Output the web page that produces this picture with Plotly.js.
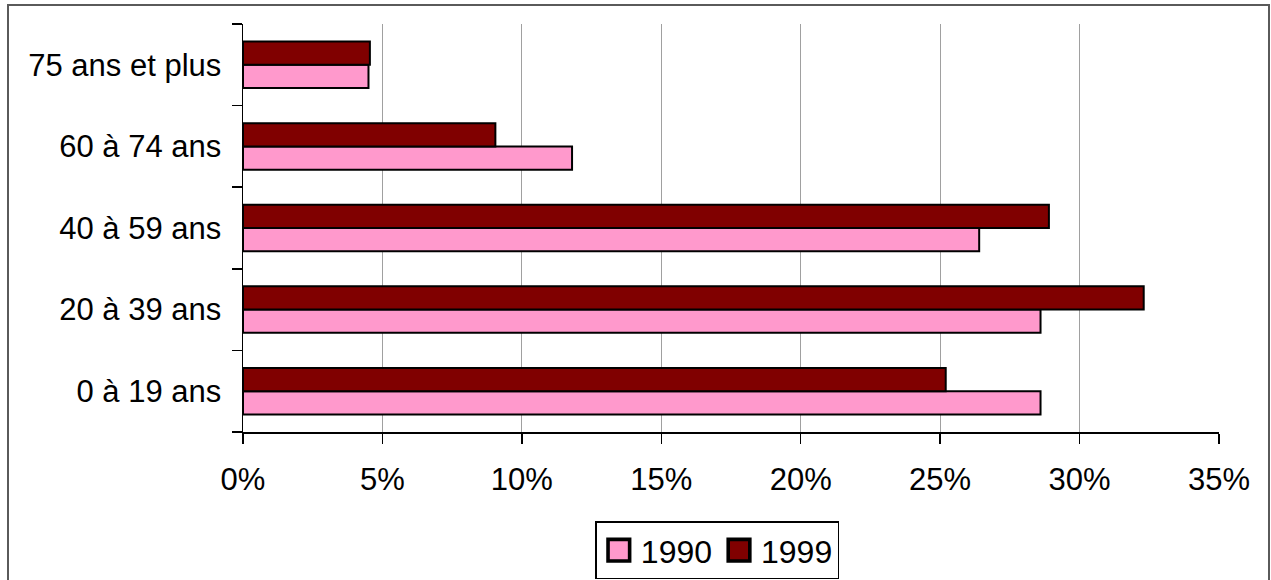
<!DOCTYPE html>
<html>
<head>
<meta charset="utf-8">
<script src="https://cdn.plot.ly/plotly-3.0.1.min.js"></script>
<style>
  html, body { margin: 0; padding: 0; background: #fff; }
  #wrap { position: relative; width: 1271px; height: 580px; overflow: hidden; }
  #chart { position: absolute; left: 0; top: 0; width: 1271px; height: 580px; }
  #frame { position: absolute; left: 7px; top: 4px; width: 1259px; height: 620px;
           border: 2px solid #5a5a5a; pointer-events: none; }
</style>
</head>
<body>
<div id="wrap">
  <div id="chart"></div>
  <div id="frame"></div>
</div>
<script>
const categories = ['0 à 19 ans', '20 à 39 ans', '40 à 59 ans', '60 à 74 ans', '75 ans et plus'];
const values1990 = [28.6, 28.6, 26.4, 11.8, 4.5];
const values1999 = [25.2, 32.3, 28.9, 9.05, 4.55];
const tickVals = [0, 5, 10, 15, 20, 25, 30, 35];
const tickText = ['0%', '5%', '10%', '15%', '20%', '25%', '30%', '35%'];

const fontFamily = 'Liberation Sans, Arial, sans-serif';

const traces = [
  {
    type: 'bar', orientation: 'h', name: '1990',
    y: categories, x: values1990,
    marker: { color: '#FF99CC', line: { color: '#000000', width: 2 } },
    hoverinfo: 'skip'
  },
  {
    type: 'bar', orientation: 'h', name: '1999',
    y: categories, x: values1999,
    marker: { color: '#800000', line: { color: '#000000', width: 2 } },
    hoverinfo: 'skip'
  }
];

const layout = {
  width: 1271, height: 580,
  margin: { l: 243, r: 52, t: 24, b: 148, autoexpand: false },
  paper_bgcolor: '#ffffff', plot_bgcolor: '#ffffff',
  font: { family: fontFamily, size: 31, color: '#000000' },
  barmode: 'group',
  bargap: 0.43,
  bargroupgap: 0,
  showlegend: true,
  legend: {
    orientation: 'h', x: 0.486, xanchor: 'center', y: -0.219, yanchor: 'top',
    bordercolor: '#000000', borderwidth: 1.5, bgcolor: '#ffffff',
    font: { family: fontFamily, size: 32, color: '#000000' },
    traceorder: 'normal', itemwidth: 34
  },
  xaxis: {
    range: [0, 35], tickvals: tickVals, ticktext: tickText,
    showgrid: true, gridcolor: '#a0a0a0', gridwidth: 1,
    showline: true, linecolor: '#000000', linewidth: 1.5,
    ticks: 'outside', ticklen: 10, tickcolor: '#000000', tickwidth: 1.5,
    ticklabelstandoff: 9,
    zeroline: false, fixedrange: true,
    tickfont: { family: fontFamily, size: 31, color: '#000000' }
  },
  yaxis: {
    type: 'category', categoryorder: 'array', categoryarray: categories,
    showgrid: false, showline: true, linecolor: '#000000', linewidth: 1.5,
    ticks: 'outside', tickson: 'boundaries', ticklen: 10, tickcolor: '#000000', tickwidth: 1.5,
    ticklabelstandoff: 14,
    zeroline: false, fixedrange: true,
    tickfont: { family: fontFamily, size: 31, color: '#000000' }
  }
};

Plotly.newPlot('chart', traces, layout, { staticPlot: true }).then(function (gd) {
  // enlarge legend swatches to match the reference
  const pts = gd.querySelectorAll('.legend .legendpoints path');
  pts.forEach(function (p) {
    const t = p.getAttribute('transform') || '';
    p.setAttribute('transform', t + ' scale(1.8)');
  });
});
</script>
</body>
</html>
